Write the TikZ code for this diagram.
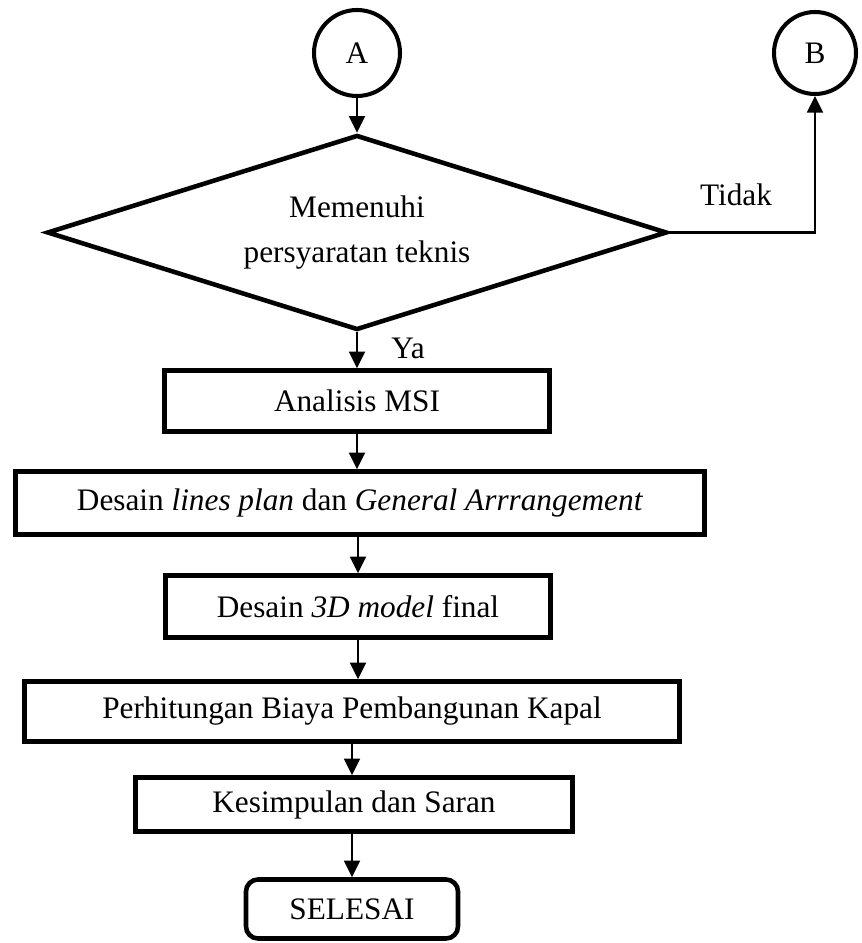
\documentclass[tikz,border=0pt]{standalone}
\usepackage{fontspec}
\setmainfont{Liberation Serif}
\usetikzlibrary{shapes.geometric,arrows.meta}

\begin{document}
\begin{tikzpicture}[>={Triangle[length=9.5pt,width=9pt]},
    proc/.style={rectangle, draw, line width=2.6pt, minimum height=1.22cm, align=center, inner sep=0pt, font=\fontsize{17.8}{20}\selectfont},
    conn/.style={circle, draw, line width=2.3pt, minimum size=1.72cm, inner sep=0pt, font=\fontsize{17.8}{20}\selectfont},
    cek/.style={diamond, draw, line width=2.6pt, aspect=3.18, minimum width=12.4cm, minimum height=3.9cm, align=center, inner sep=0pt, font=\fontsize{17.8}{25.6}\selectfont},
    term/.style={proc, rounded corners=0.24cm},
    lbl/.style={font=\fontsize{17.8}{20}\selectfont},
    ar/.style={line width=1.4pt,->}]
    \useasboundingbox (0,0) rectangle (17.22,-18.86);
    \node [conn] (A) at (7.14,-1.06) {A};
    \node [conn, minimum size=1.64cm] (B) at (16.3,-1.06) {B};
    \node [cek] (cek) at (7.14,-4.65) {Memenuhi\\persyaratan teknis};
    \node [proc, minimum width=7.7cm] (msi) at (7.14,-8.02) {Analisis MSI};
    \node [proc, minimum width=13.78cm, minimum height=1.26cm] (lp) at (7.2,-10.06) {Desain \textit{lines plan} dan \textit{General Arrrangement}};
    \node [proc, minimum width=7.7cm, minimum height=1.24cm] (model) at (7.16,-12.13) {Desain \textit{3D model} final};
    \node [proc, minimum width=13.1cm, minimum height=1.2cm] (biaya) at (7.04,-14.23) {Perhitungan Biaya Pembangunan Kapal};
    \node [proc, minimum width=8.74cm, minimum height=1.08cm] (saran) at (7.08,-16.09) {Kesimpulan dan Saran};
    \node [term, minimum width=4.24cm, minimum height=1.18cm] (selesai) at (7.04,-18.18) {SELESAI};
    \draw [ar] (A.south) -- (cek.north);
    \draw [ar] (cek.east) -| (B.south);
    \node [lbl] (tidak) at (14.72,-3.9) {Tidak};
    \draw [ar] (cek.south) -- (msi.north);
    \node [lbl] (ya) at (8.16,-6.96) {Ya};
    \draw [ar] (msi.south) -- (msi.south |- lp.north);
    \draw [ar] (model.north |- lp.south) -- (model.north);
    \draw [ar] (model.south) -- (model.south |- biaya.north);
    \draw [ar] (biaya.south) -- (biaya.south |- saran.north);
    \draw [ar] (selesai.north |- saran.south) -- (selesai.north);
\end{tikzpicture}
\end{document}
